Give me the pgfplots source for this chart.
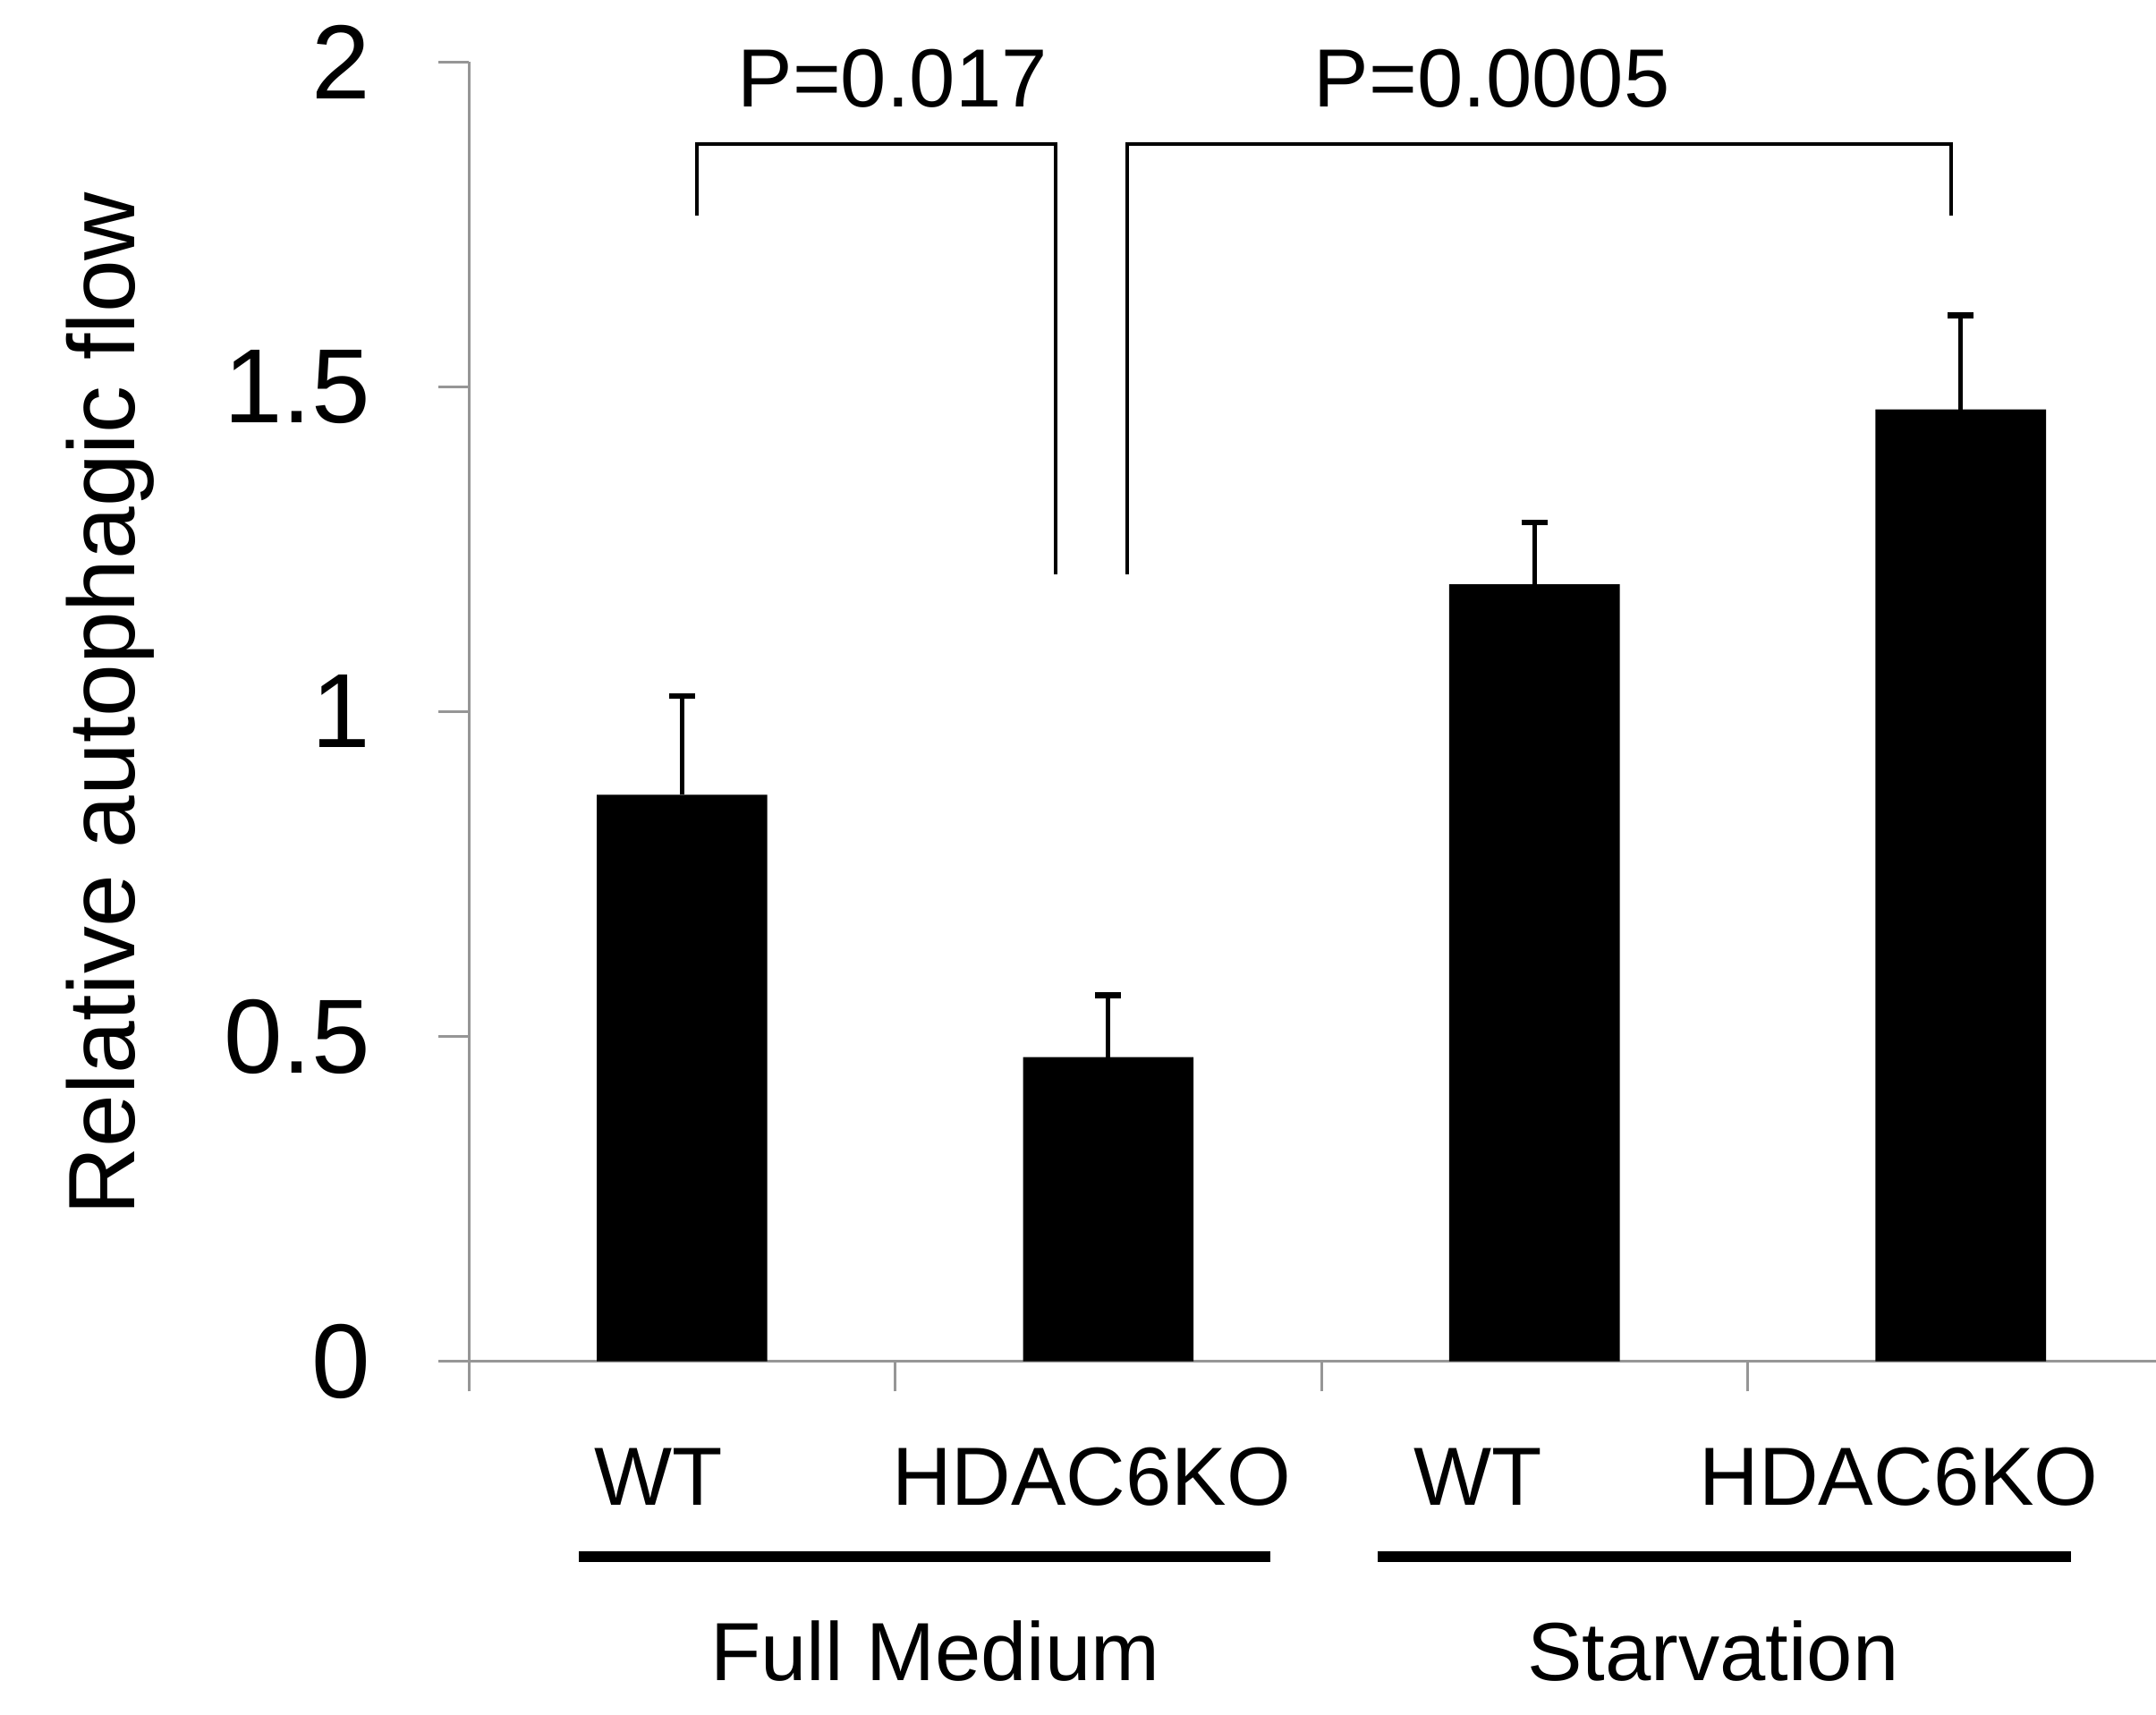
\documentclass[border=0pt]{standalone}
\usepackage{fontspec}
\setmainfont{Liberation Sans}
\usepackage{pgfplots}
\pgfplotsset{compat=1.18}
\definecolor{axgray}{RGB}{150,150,150}
\pgfplotstableread{
x y e
0 0.872 0.152
1 0.468 0.095
2 1.196 0.095
3 1.465 0.145
}\datatable
\begin{document}
\begin{tikzpicture}
\begin{axis}[
  scale only axis,
  width=368.1pt, height=283.5pt,
  xmin=-0.5, xmax=3.458, ymin=0, ymax=2,
  axis x line=bottom, axis y line=left,
  axis line style={-, draw=axgray, line width=0.6pt},
  tick style={draw=axgray, line width=0.6pt},
  major tick length=6.6pt,
  tick align=outside,
  xtick={-0.5,0.5,1.5,2.5},
  xticklabels={},
  extra x ticks={-0.055,0.961,1.868,2.855},
  extra x tick labels={WT,HDAC6KO,WT,HDAC6KO},
  extra x tick style={major tick length=0pt, tick style={draw=none},
     xticklabel style={anchor=base, inner sep=0pt, yshift=-31.5pt, font=\fontsize{18}{21}\selectfont}},
  ytick={0,0.5,1,1.5,2},
  yticklabels={0,0.5,1,1.5,2},
  yticklabel style={font=\fontsize{23}{27}\selectfont, anchor=east, inner sep=0pt, xshift=-14.7pt},
  ylabel={Relative autophagic flow},
  every axis y label/.style={at={(rel axis cs:-0.198,0.506)}, rotate=90, anchor=base, font=\fontsize{20.6}{24}\selectfont},
  ybar, bar width=37.2pt,
  clip=false,
]
\addplot[fill=black, draw=none,
  error bars/.cd, y dir=plus, y explicit,
  error bar style={draw=black, line width=1pt},
  error mark options={draw=black, line width=1.3pt, mark size=2.85pt, rotate=90}]
  table[x=x, y=y, y error=e] {\datatable};

\draw[line width=0.75pt] (axis cs:0.035,1.763) -- (axis cs:0.035,1.873) -- (axis cs:0.877,1.873) -- (axis cs:0.877,1.211);
\draw[line width=0.75pt] (axis cs:1.045,1.211) -- (axis cs:1.045,1.873) -- (axis cs:2.977,1.873) -- (axis cs:2.977,1.763);
\node[anchor=base, inner sep=0pt, font=\fontsize{18}{21}\selectfont] at (axis cs:0.494,1.930) {P=0.017};
\node[anchor=base, inner sep=0pt, font=\fontsize{18}{21}\selectfont] at (axis cs:1.900,1.930) {P=0.0005};

\draw[line width=2.4pt] (axis cs:-0.242,-0.3005) -- (axis cs:1.381,-0.3005);
\draw[line width=2.4pt] (axis cs:1.632,-0.3005) -- (axis cs:3.258,-0.3005);
\node[anchor=base, inner sep=0pt, font=\fontsize{18}{21}\selectfont] at (axis cs:0.594,-0.491) {Full Medium};
\node[anchor=base, inner sep=0pt, font=\fontsize{18}{21}\selectfont] at (axis cs:2.419,-0.491) {Starvation};

\coordinate (BL) at (rel axis cs:-0.2779,-0.2720);
\coordinate (TR) at (rel axis cs:1,1.0476);
\end{axis}
\pgfresetboundingbox
\path[use as bounding box] (BL) rectangle (TR);
\end{tikzpicture}
\end{document}
